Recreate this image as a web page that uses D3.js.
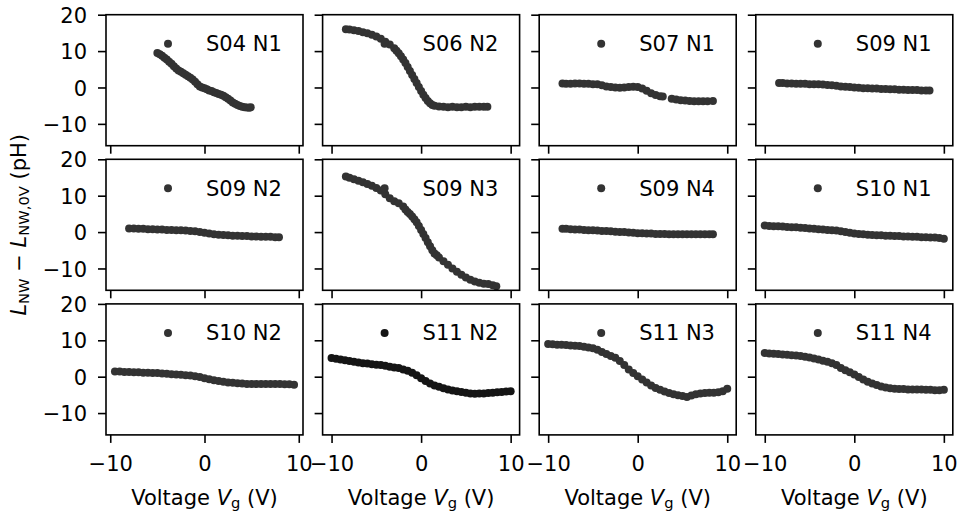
<!DOCTYPE html>
<html><head><meta charset="utf-8">
<script src="https://cdn.jsdelivr.net/npm/d3@7/dist/d3.min.js"></script>
<style>
body{margin:0;background:#fff;}
svg{display:block;font-family:"DejaVu Sans",sans-serif;}
</style></head>
<body>
<svg id="chart" width="959" height="513"></svg>
<script>
// ---------------- data ----------------
const labels = ["S04 N1","S06 N2","S07 N1","S09 N1","S09 N2","S09 N3","S09 N4","S10 N1","S10 N2","S11 N2","S11 N3","S11 N4"];

const s04n1_V = [-5,-4.75,-4.5,-4.25,-4,-3.75,-3.5,-3.25,-3,-2.75,-2.5,-2.25,-2,-1.75,-1.5,-1.25,-1,-0.75,-0.5,-0.25,0,0.25,0.5,0.75,1,1.25,1.5,1.75,2,2.25,2.5,2.75,3,3.25,3.5,3.75,4,4.25,4.5,4.75,4.9];
const s04n1_L = [9.5,9.1,8.7,8.2,7.7,7.1,6.5,5.8,5.2,4.7,4.3,3.9,3.5,3.1,2.7,2.2,1.6,0.9,0.3,0.0,-0.2,-0.5,-0.8,-1.0,-1.3,-1.5,-1.8,-2.0,-2.3,-2.7,-3.1,-3.6,-4.1,-4.5,-4.8,-5.1,-5.3,-5.4,-5.5,-5.6,-5.4];

const s06n2_V = [-8.4,-8,-7.5,-7,-6.5,-6,-5.5,-5,-4.5,-4,-3.5,-3,-2.75,-2.5,-2.25,-2,-1.75,-1.5,-1.25,-1,-0.75,-0.5,-0.25,0,0.25,0.5,0.75,1,1.25,1.5,2,2.5,3,3.5,4,4.5,5,5.5,6,6.5,7,7.4];
const s06n2_L = [16.0,15.9,15.7,15.5,15.2,14.9,14.5,14.0,13.4,12.6,11.8,10.8,10.1,9.4,8.6,7.7,6.7,5.6,4.5,3.4,2.3,1.2,0.1,-1.0,-2.0,-2.9,-3.7,-4.3,-4.8,-5.0,-5.2,-5.3,-5.4,-5.3,-5.4,-5.4,-5.3,-5.4,-5.3,-5.3,-5.3,-5.3];

const s07n1_V = [-8.4,-8,-7.5,-7,-6.5,-6,-5.5,-5,-4.5,-4,-3.5,-3,-2.5,-2,-1.5,-1,-0.5,0,0.5,1,1.5,2,2.5,2.8,3.8,4.3,4.8,5.3,5.8,6.3,6.8,7.3,7.8,8.4];
const s07n1_L = [1.1,1.0,1.0,1.1,1.1,1.0,1.0,0.9,0.9,0.6,0.3,0.1,0.0,-0.1,0.0,0.1,0.2,0.1,-0.3,-0.9,-1.6,-2.1,-2.4,-2.5,-3.1,-3.3,-3.5,-3.6,-3.7,-3.8,-3.8,-3.8,-3.8,-3.7];

const s09n1_V = [-8.4,-8,-7.5,-7,-6.5,-6,-5.5,-5,-4.5,-4,-3.5,-3,-2.5,-2,-1.5,-1,-0.5,0,0.5,1,1.5,2,2.5,3,3.5,4,4.5,5,5.5,6,6.5,7,7.5,8,8.4];
const s09n1_L = [1.2,1.2,1.1,1.1,1.0,1.0,1.0,0.9,0.9,0.9,0.8,0.7,0.6,0.5,0.3,0.2,0.1,0.0,-0.1,-0.2,-0.2,-0.3,-0.3,-0.4,-0.4,-0.5,-0.5,-0.6,-0.6,-0.7,-0.7,-0.7,-0.8,-0.8,-0.8];

const s09n2_V = [-8,-7.5,-7,-6.5,-6,-5.5,-5,-4.5,-4,-3.5,-3,-2.5,-2,-1.5,-1,-0.5,0,0.5,1,1.5,2,2.5,3,3.5,4,4.5,5,5.5,6,6.5,7,7.5,7.9];
const s09n2_L = [1.0,1.0,0.9,0.9,0.8,0.8,0.7,0.7,0.6,0.6,0.5,0.5,0.4,0.3,0.2,0.0,-0.2,-0.4,-0.6,-0.7,-0.8,-0.9,-1.0,-1.0,-1.1,-1.1,-1.2,-1.2,-1.3,-1.3,-1.3,-1.4,-1.4];

const s09n3_V = [-8.4,-8,-7.5,-7,-6.5,-6,-5.5,-5,-4.5,-4,-3.5,-3,-2.5,-2,-1.75,-1.5,-1.25,-1,-0.75,-0.5,-0.25,0,0.25,0.5,0.75,1,1.25,1.5,1.75,2,2.5,3,3.5,4,4.5,5,5.5,6,6.5,7,7.5,8,8.4];
const s09n3_L = [15.3,14.9,14.5,14.1,13.7,13.2,12.7,12.1,11.4,10.4,9.3,8.5,7.9,7.0,6.2,5.5,5.0,4.3,3.5,2.7,1.7,0.6,-0.5,-1.6,-2.8,-3.9,-5.0,-5.9,-6.4,-7.0,-8.0,-9.0,-10.0,-10.9,-11.7,-12.5,-13.1,-13.6,-13.9,-14.2,-14.3,-14.6,-14.9];

const s09n4_V = [-8.4,-8,-7.5,-7,-6.5,-6,-5.5,-5,-4.5,-4,-3.5,-3,-2.5,-2,-1.5,-1,-0.5,0,0.5,1,1.5,2,2.5,3,3.5,4,4.5,5,5.5,6,6.5,7,7.5,8,8.4];
const s09n4_L = [0.9,0.9,0.8,0.7,0.7,0.6,0.5,0.5,0.4,0.3,0.3,0.2,0.1,0.0,0.0,-0.1,-0.2,-0.3,-0.3,-0.4,-0.4,-0.5,-0.5,-0.5,-0.6,-0.6,-0.6,-0.6,-0.6,-0.6,-0.6,-0.6,-0.6,-0.6,-0.6];

const s10n1_V = [-10,-9.5,-9,-8.5,-8,-7.5,-7,-6.5,-6,-5.5,-5,-4.5,-4,-3.5,-3,-2.5,-2,-1.5,-1,-0.5,0,0.5,1,1.5,2,2.5,3,3.5,4,4.5,5,5.5,6,6.5,7,7.5,8,8.5,9,9.5,10];
const s10n1_L = [1.8,1.7,1.6,1.6,1.5,1.4,1.3,1.3,1.2,1.1,1.0,0.9,0.8,0.7,0.6,0.5,0.4,0.2,0.0,-0.2,-0.4,-0.5,-0.6,-0.7,-0.8,-0.9,-0.9,-1.0,-1.0,-1.1,-1.1,-1.2,-1.2,-1.3,-1.3,-1.4,-1.4,-1.5,-1.5,-1.6,-1.8];

const s10n2_V = [-9.5,-9,-8.5,-8,-7.5,-7,-6.5,-6,-5.5,-5,-4.5,-4,-3.5,-3,-2.5,-2,-1.5,-1,-0.5,0,0.5,1,1.5,2,2.5,3,3.5,4,4.5,5,5.5,6,6.5,7,7.5,8,8.5,9,9.5];
const s10n2_L = [1.4,1.4,1.3,1.3,1.2,1.2,1.1,1.1,1.0,1.0,0.9,0.8,0.7,0.6,0.5,0.4,0.3,0.1,-0.1,-0.4,-0.7,-1.0,-1.2,-1.4,-1.6,-1.7,-1.8,-1.9,-2.0,-2.0,-2.0,-2.0,-2.0,-2.0,-2.0,-2.0,-2.1,-2.1,-2.2];

const s11n2_V = [-10,-9.5,-9,-8.5,-8,-7.5,-7,-6.5,-6,-5.5,-5,-4.5,-4,-3.5,-3,-2.5,-2,-1.5,-1,-0.5,0,0.5,1,1.5,2,2.5,3,3.5,4,4.5,5,5.5,6,6.5,7,7.5,8,8.5,9,9.5,10];
const s11n2_L = [5.1,4.9,4.7,4.5,4.3,4.1,3.9,3.7,3.6,3.4,3.3,3.2,3.0,2.7,2.5,2.4,2.0,1.6,1.1,0.4,-0.4,-1.2,-1.9,-2.4,-2.8,-3.2,-3.5,-3.8,-4.0,-4.2,-4.4,-4.6,-4.7,-4.6,-4.6,-4.5,-4.4,-4.3,-4.2,-4.1,-4.0];

const s11n3_V = [-10,-9.5,-9,-8.5,-8,-7.5,-7,-6.5,-6,-5.5,-5,-4.5,-4,-3.5,-3,-2.5,-2,-1.5,-1,-0.5,0,0.5,1,1.5,2,2.5,3,3.5,4,4.5,5,5.5,6,6.5,7,7.5,8,8.5,9,9.5,10];
const s11n3_L = [9.0,8.9,8.8,8.8,8.7,8.6,8.5,8.4,8.2,8.0,7.8,7.4,6.8,6.2,5.7,5.2,4.3,3.2,2.0,1.0,0.1,-0.8,-1.6,-2.4,-3.1,-3.6,-4.1,-4.5,-4.8,-5.1,-5.3,-5.6,-5.2,-4.8,-4.6,-4.5,-4.4,-4.4,-4.3,-4.0,-3.3];

const s11n4_V = [-10,-9.5,-9,-8.5,-8,-7.5,-7,-6.5,-6,-5.5,-5,-4.5,-4,-3.5,-3,-2.5,-2,-1.5,-1,-0.5,0,0.5,1,1.5,2,2.5,3,3.5,4,4.5,5,5.5,6,6.5,7,7.5,8,8.5,9,9.5,10];
const s11n4_L = [6.5,6.4,6.3,6.2,6.1,6.0,5.9,5.8,5.7,5.5,5.3,5.0,4.7,4.4,4.1,3.7,3.2,2.4,1.8,1.2,0.6,-0.1,-0.8,-1.4,-1.9,-2.3,-2.7,-3.0,-3.2,-3.3,-3.4,-3.4,-3.5,-3.5,-3.5,-3.5,-3.6,-3.6,-3.7,-3.7,-3.6];

const xTicks = [-10, 0, 10];
const yTicks = [-10, 0, 10, 20];
const yLimits = [-16, 20];

// ---------------- layout ----------------
const panelsV = [s04n1_V,s06n2_V,s07n1_V,s09n1_V,s09n2_V,s09n3_V,s09n4_V,s10n1_V,s10n2_V,s11n2_V,s11n3_V,s11n4_V];
const panelsL = [s04n1_L,s06n2_L,s07n1_L,s09n1_L,s09n2_L,s09n3_L,s09n4_L,s10n1_L,s10n2_L,s11n2_L,s11n3_L,s11n4_L];
const nCols = 4, nRows = 3;
const left0 = 106, top0 = 14.7, pw = 197, ph = 131, gapX = 19.6, gapY = 13.6;
const fs = 21;
const dotR = 4;
const dotColor = i => labels[i] === "S11 N2" ? "#151515" : "#333333";

const svg = d3.select("#chart");

// per-column x scales (shared within column, 5% padding like matplotlib)
const xScales = [];
for (let c = 0; c < nCols; c++) {
  let all = [];
  for (let r = 0; r < nRows; r++) all = all.concat(panelsV[r*nCols + c]);
  const [lo, hi] = d3.extent(all);
  const pad = (hi - lo) * 0.05;
  const x0 = left0 + c*(pw+gapX);
  xScales.push(d3.scaleLinear().domain([lo-pad, hi+pad]).range([x0, x0+pw]));
}

for (let i = 0; i < labels.length; i++) {
  const r = Math.floor(i / nCols), c = i % nCols;
  const x = xScales[c];
  const y0 = top0 + r*(ph+gapY);
  const y = d3.scaleLinear().domain(yLimits).range([y0+ph, y0]);
  const g = svg.append("g");

  // points
  const pts = panelsV[i].map((v, k) => ({v, L: panelsL[i][k]}));
  g.selectAll("circle.pt").data(pts).enter().append("circle")
    .attr("class","pt")
    .attr("cx", d => x(d.v)).attr("cy", d => y(d.L)).attr("r", dotR)
    .attr("fill", dotColor(i));

  // axes
  const ax = d3.axisBottom(x).tickValues(xTicks).tickSize(8).tickSizeOuter(0);
  const gx = g.append("g").attr("transform", `translate(0,${y0+ph})`).call(ax);
  gx.select(".domain").remove();
  gx.selectAll("line").attr("stroke","#000").attr("stroke-width",1.6);
  gx.selectAll("text").attr("font-size", fs).attr("font-family","DejaVu Sans").attr("fill","#000")
    .attr("y", 36).attr("dy", null);
  if (r < nRows-1) gx.selectAll("text").remove();

  const ay = d3.axisLeft(y).tickValues(yTicks).tickSize(8).tickSizeOuter(0);
  const gy = g.append("g").attr("transform", `translate(${x.range()[0]},0)`).call(ay);
  gy.select(".domain").remove();
  gy.selectAll("line").attr("stroke","#000").attr("stroke-width",1.6);
  gy.selectAll("text").attr("font-size", fs).attr("font-family","DejaVu Sans").attr("fill","#000")
    .attr("x", -19).attr("dy", "0.36em");
  if (c > 0) gy.selectAll("text").remove();

  // frame
  g.append("rect").attr("x", x.range()[0]).attr("y", y0).attr("width", pw).attr("height", ph)
    .attr("fill","none").attr("stroke","#000").attr("stroke-width",1.6);

  // legend
  const lx = x.range()[0], ly = y0 + 29;
  g.append("circle").attr("cx", lx+62).attr("cy", ly).attr("r", dotR).attr("fill", dotColor(i));
  g.append("text").attr("x", lx+100).attr("y", ly + 0.36*fs).attr("font-size", fs).attr("fill","#000").text(labels[i]);
}

// x labels
for (let c = 0; c < nCols; c++) {
  const xr = xScales[c].range();
  const t = svg.append("text").attr("x", (xr[0]+xr[1])/2).attr("y", 505)
    .attr("text-anchor","middle").attr("font-size", fs);
  t.append("tspan").text("Voltage ");
  t.append("tspan").attr("font-style","italic").text("V");
  t.append("tspan").attr("font-size", fs*0.7).attr("dy", 3).text("g");
  t.append("tspan").attr("dy", -3).text(" (V)");
}

// y label
const yl = svg.append("text").attr("transform", `translate(26,${top0 + (3*ph+2*gapY)/2}) rotate(-90)`)
  .attr("text-anchor","middle").attr("font-size", fs);
yl.append("tspan").attr("font-style","italic").text("L");
yl.append("tspan").attr("font-size", fs*0.7).attr("dy", 3).text("NW");
yl.append("tspan").attr("dy", -3).text(" \u2212 ");
yl.append("tspan").attr("font-style","italic").text("L");
yl.append("tspan").attr("font-size", fs*0.7).attr("dy", 3).text("NW,0V");
yl.append("tspan").attr("dy", -3).text(" (pH)");
</script>
</body></html>
